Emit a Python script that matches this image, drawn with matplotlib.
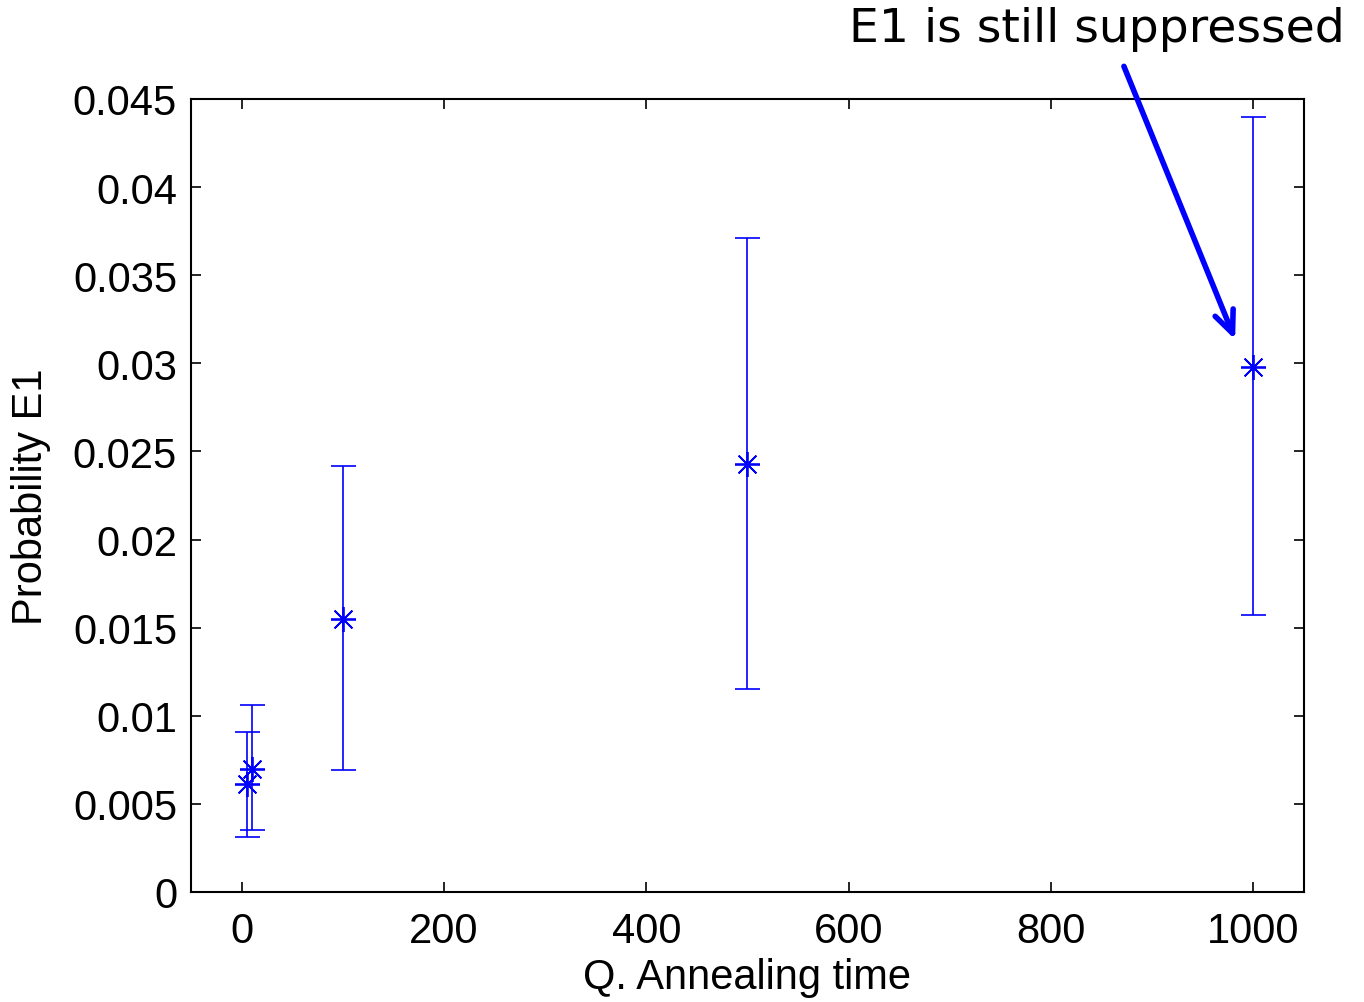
import matplotlib
matplotlib.use("Agg")
import matplotlib.pyplot as plt
import numpy as np

# annealing time vs probability of E1, with error bars
anneal_time = [5, 10, 100, 500, 1000]
prob_e1 = [0.0061, 0.0070, 0.0155, 0.0243, 0.0298]
err_low = [0.0031, 0.0035, 0.0069, 0.0115, 0.0157]
err_high = [0.0091, 0.0106, 0.0242, 0.0371, 0.0440]

xticks = [0, 200, 400, 600, 800, 1000]
yticks = [0, 0.005, 0.01, 0.015, 0.02, 0.025, 0.03, 0.035, 0.04, 0.045]
ytick_labels = ["0", "0.005", "0.01", "0.015", "0.02", "0.025", "0.03", "0.035", "0.04", "0.045"]

plt.rcParams["font.family"] = ["Liberation Sans", "DejaVu Sans"]

fig = plt.figure(figsize=(13.64, 10.03), dpi=100)
ax = fig.add_axes([0.140, 0.1097, 0.816, 0.7906])

y = np.array(prob_e1)
yerr = np.vstack([y - np.array(err_low), np.array(err_high) - y])
ax.errorbar(anneal_time, y, yerr=yerr, fmt="none", ecolor="#0000ff",
            elinewidth=1.2, capsize=9, capthick=1.2)
# matlab style asterisk: plus and cross together
ax.plot(anneal_time, y, linestyle="none", marker=(8, 2, 0), markersize=18,
        markeredgewidth=1.3, color="#0000ff")

ax.set_xlim(-50, 1050)
ax.set_ylim(0, 0.045)
ax.set_xticks(xticks)
ax.set_yticks(yticks)
ax.set_yticklabels(ytick_labels)
ax.tick_params(direction="in", length=7, width=1.2, labelsize=30,
               top=True, right=True)
ax.tick_params(axis="x", pad=14)
ax.tick_params(axis="y", pad=10)
for sp in ax.spines.values():
    sp.set_linewidth(1.5)

ax.set_xlabel("Q. Annealing time", fontsize=30, labelpad=4)
ax.set_ylabel("Probability E1", fontsize=30, labelpad=16)

ax.annotate("", xy=(983, 0.0312), xytext=(871, 0.0470),
            xycoords="data", textcoords="data", annotation_clip=False,
            arrowprops=dict(arrowstyle="->,head_length=1.6,head_width=0.7",
                            color="#0000ff", lw=4))
fig.text(0.986, 0.971, "E1 is still suppressed", ha="right", va="center",
         fontsize=34, family="DejaVu Sans")

fig.savefig("out.png", dpi=100)
